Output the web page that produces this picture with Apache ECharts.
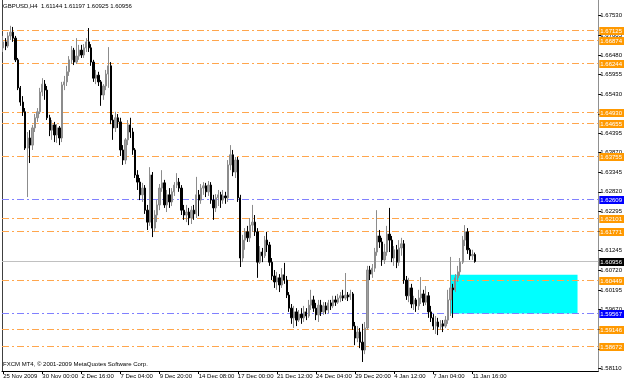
<!DOCTYPE html>
<html><head><meta charset="utf-8">
<script src="https://cdn.jsdelivr.net/npm/echarts@6/dist/echarts.min.js"></script>
<style>html,body{margin:0;padding:0;background:#fff}#c{width:625px;height:381px}</style>
</head><body><div id="c"></div>
<script>
const symbolName = 'GBPUSD,H4';
const copyright = 'FXCM MT4, \u00A9 2001-2009 MetaQuotes Software Corp.';

const open = [1.6667,1.6683,1.6672,1.6699,1.6709,1.6693,1.6635,1.6560,1.6522,1.6496,
1.6399,1.6426,1.6407,1.6453,1.6480,1.6496,1.6549,1.6570,1.6554,1.6480,
1.6447,1.6461,1.6434,1.6453,1.6426,1.6568,1.6576,1.6603,1.6635,1.6661,
1.6629,1.6645,1.6661,1.6648,1.6667,1.6683,1.6667,1.6629,1.6586,1.6594,
1.6576,1.6541,1.6565,1.6597,1.6619,1.6474,1.6453,1.6480,1.6469,1.6394,
1.6367,1.6421,1.6461,1.6442,1.6394,1.6327,1.6308,1.6274,1.6292,1.6233,
1.6201,1.6327,1.6185,1.6220,1.6247,1.6292,1.6306,1.6247,1.6274,1.6255,
1.6282,1.6300,1.6308,1.6292,1.6233,1.6220,1.6228,1.6212,1.6233,1.6223,
1.6274,1.6260,1.6292,1.6298,1.6282,1.6300,1.6260,1.6239,1.6266,1.6274,
1.6260,1.6271,1.6266,1.6354,1.6381,1.6335,1.6367,1.6266,1.6105,1.6153,
1.6175,1.6159,1.6193,1.6201,1.6175,1.6094,1.6121,1.6111,1.6153,1.6140,
1.6094,1.6057,1.6041,1.6052,1.6033,1.6060,1.6046,1.6006,1.5971,1.5945,
1.5961,1.5939,1.5955,1.5945,1.5961,1.5950,1.5979,1.5993,1.5971,1.5953,
1.5979,1.5961,1.5977,1.5966,1.5985,1.5977,1.5993,1.5987,1.5998,1.6004,
1.5998,1.6006,1.6001,1.6009,1.5923,1.5891,1.5907,1.5880,1.5859,1.5918,
1.6073,1.6062,1.6078,1.6121,1.6164,1.6148,1.6100,1.6121,1.6169,1.6153,
1.6105,1.6127,1.6094,1.6132,1.6143,1.6046,1.6004,1.6025,1.5982,1.5993,
1.5977,1.5998,1.6009,1.5987,1.6004,1.5961,1.5945,1.5923,1.5934,1.5921,
1.5929,1.5923,1.5939,1.5993,1.6025,1.6020,1.6052,1.6068,1.6094,1.6153,
1.6175,1.6127,1.6111,1.61144];

const high = [1.6699,1.6693,1.6709,1.6726,1.6723,1.6699,1.6640,1.6565,1.6538,1.6506,
1.6442,1.6447,1.6461,1.6490,1.6506,1.6560,1.6586,1.6581,1.6565,1.6488,
1.6474,1.6469,1.6463,1.6458,1.6576,1.6592,1.6619,1.6645,1.6672,1.6667,
1.6693,1.6675,1.6675,1.6677,1.6693,1.6720,1.6677,1.6635,1.6608,1.6603,
1.6581,1.6570,1.6608,1.6669,1.6629,1.6488,1.6496,1.6490,1.6480,1.6407,
1.6426,1.6474,1.6480,1.6453,1.6399,1.6340,1.6319,1.6306,1.6300,1.6247,
1.6348,1.6335,1.6233,1.6260,1.6303,1.6340,1.6314,1.6287,1.6292,1.6292,
1.6308,1.6332,1.6319,1.6300,1.6247,1.6247,1.6239,1.6244,1.6247,1.6322,
1.6287,1.6303,1.6308,1.6306,1.6311,1.6308,1.6274,1.6276,1.6287,1.6282,
1.6287,1.6282,1.6367,1.6407,1.6394,1.6375,1.6375,1.6274,1.6167,1.6185,
1.6191,1.6212,1.6247,1.6220,1.6185,1.6137,1.6132,1.6164,1.6175,1.6148,
1.6105,1.6073,1.6068,1.6062,1.6078,1.6092,1.6057,1.6014,1.5982,1.5977,
1.5971,1.5966,1.5971,1.5977,1.5971,1.5993,1.6020,1.6004,1.5985,1.5993,
1.5993,1.5987,1.5987,1.5993,1.5993,1.6004,1.6004,1.6009,1.6014,1.6020,
1.6065,1.6014,1.6020,1.6014,1.5934,1.5923,1.5918,1.5929,1.5934,1.6084,
1.6084,1.6089,1.6132,1.6233,1.6180,1.6159,1.6143,1.6191,1.6239,1.6164,
1.6137,1.6140,1.6153,1.6159,1.6153,1.6057,1.6052,1.6036,1.6004,1.5998,
1.6020,1.6054,1.6020,1.6030,1.6014,1.5977,1.5955,1.5950,1.5945,1.5939,
1.5939,1.5950,1.6020,1.6108,1.6036,1.6062,1.6084,1.6105,1.6164,1.6193,
1.6185,1.6132,1.6127,1.61197];

const low = [1.6656,1.6661,1.6667,1.6688,1.6683,1.6629,1.6554,1.6512,1.6485,1.6394,
1.6268,1.6359,1.6394,1.6442,1.6469,1.6490,1.6538,1.6528,1.6474,1.6431,
1.6421,1.6415,1.6413,1.6407,1.6415,1.6554,1.6565,1.6592,1.6624,1.6621,
1.6624,1.6635,1.6640,1.6640,1.6656,1.6656,1.6619,1.6576,1.6570,1.6565,
1.6512,1.6528,1.6554,1.6560,1.6463,1.6421,1.6442,1.6453,1.6378,1.6354,
1.6356,1.6407,1.6426,1.6381,1.6319,1.6287,1.6260,1.6255,1.6223,1.6180,
1.6191,1.6161,1.6175,1.6201,1.6233,1.6282,1.6239,1.6228,1.6239,1.6244,
1.6271,1.6292,1.6282,1.6220,1.6207,1.6201,1.6193,1.6196,1.6207,1.6212,
1.6217,1.6250,1.6274,1.6268,1.6271,1.6250,1.6207,1.6228,1.6244,1.6239,
1.6250,1.6250,1.6255,1.6340,1.6324,1.6319,1.6255,1.6081,1.6094,1.6127,
1.6148,1.6148,1.6175,1.6164,1.6052,1.6089,1.6094,1.6105,1.6121,1.6084,
1.6046,1.6025,1.6020,1.6014,1.6025,1.6036,1.5998,1.5961,1.5929,1.5918,
1.5923,1.5934,1.5929,1.5934,1.5939,1.5945,1.5966,1.5961,1.5939,1.5934,
1.5950,1.5953,1.5955,1.5958,1.5966,1.5971,1.5977,1.5982,1.5987,1.5990,
1.5993,1.5990,1.5993,1.5913,1.5872,1.5880,1.5864,1.5827,1.5848,1.5913,
1.6046,1.6052,1.6068,1.6111,1.6132,1.6084,1.6089,1.6111,1.6121,1.6094,
1.6084,1.6078,1.6084,1.6111,1.6036,1.5993,1.5987,1.5971,1.5966,1.5961,
1.5966,1.5982,1.5977,1.5979,1.5945,1.5934,1.5913,1.5902,1.5899,1.5913,
1.5907,1.5918,1.5929,1.5950,1.5945,1.6014,1.6041,1.6057,1.6089,1.6137,
1.6116,1.6100,1.6100,1.60925];

const close = [1.6683,1.6672,1.6699,1.6709,1.6693,1.6635,1.6560,1.6522,1.6496,1.6399,
1.6426,1.6407,1.6453,1.6480,1.6496,1.6549,1.6570,1.6554,1.6480,1.6447,
1.6461,1.6434,1.6453,1.6426,1.6568,1.6576,1.6603,1.6635,1.6661,1.6629,
1.6645,1.6661,1.6648,1.6667,1.6683,1.6667,1.6629,1.6586,1.6594,1.6576,
1.6541,1.6565,1.6597,1.6619,1.6474,1.6453,1.6480,1.6469,1.6394,1.6367,
1.6421,1.6461,1.6442,1.6394,1.6327,1.6308,1.6274,1.6292,1.6233,1.6201,
1.6327,1.6185,1.6220,1.6247,1.6292,1.6306,1.6247,1.6274,1.6255,1.6282,
1.6300,1.6308,1.6292,1.6233,1.6220,1.6228,1.6212,1.6233,1.6223,1.6274,
1.6260,1.6292,1.6298,1.6282,1.6300,1.6260,1.6239,1.6266,1.6274,1.6260,
1.6271,1.6266,1.6354,1.6381,1.6335,1.6367,1.6266,1.6105,1.6153,1.6175,
1.6159,1.6193,1.6201,1.6175,1.6094,1.6121,1.6111,1.6153,1.6140,1.6094,
1.6057,1.6041,1.6052,1.6033,1.6060,1.6046,1.6006,1.5971,1.5945,1.5961,
1.5939,1.5955,1.5945,1.5961,1.5950,1.5979,1.5993,1.5971,1.5953,1.5979,
1.5961,1.5977,1.5966,1.5985,1.5977,1.5993,1.5987,1.5998,1.6004,1.5998,
1.6006,1.6001,1.6009,1.5923,1.5891,1.5907,1.5880,1.5859,1.5918,1.6073,
1.6062,1.6078,1.6121,1.6164,1.6148,1.6100,1.6121,1.6169,1.6153,1.6105,
1.6127,1.6094,1.6132,1.6143,1.6046,1.6004,1.6025,1.5982,1.5993,1.5977,
1.5998,1.6009,1.5987,1.6004,1.5961,1.5945,1.5923,1.5934,1.5921,1.5929,
1.5923,1.5939,1.5993,1.6025,1.6020,1.6052,1.6068,1.6094,1.6153,1.6175,
1.6127,1.6111,1.61144,1.60956];

const timeTickLabels = ['25 Nov 2009','30 Nov 00:00','2 Dec 16:00','7 Dec 04:00','9 Dec 20:00',
  '14 Dec 08:00','17 Dec 00:00','21 Dec 12:00','24 Dec 04:00','29 Dec 20:00',
  '4 Jan 12:00','7 Jan 04:00','11 Jan 16:00'];
const barsPerTimeTick = 16;
const emptyBarsRight = 50;

const priceTickLabels = [1.67530,1.67005,1.66480,1.65955,1.65430,1.64905,1.64395,1.63870,
  1.63345,1.62820,1.62295,1.61770,1.61245,1.60720,1.60195,1.59670,1.59145,1.58620,1.58110];
const priceMin = 1.58029, priceMax = 1.67950;

const orangeLevels = [1.67125,1.66874,1.66244,1.64930,1.64655,1.63755,1.62101,1.61771,1.60449,1.59146,1.58672];
const blueLevels = [1.62609,1.59567];
const zoneBars = [183, 235];
const zonePrices = [1.60600, 1.59567];

const n = open.length;
const last = n - 1;
const categories = Array.from({length: n + emptyBarsRight}, (_, i) => String(i));
const candles = open.map((o, i) => [o, close[i], low[i], high[i]]);
const lastPrice = close[last];

const FONT = '"Liberation Sans", Arial, sans-serif';
const isTimeTick = (i) => i % barsPerTimeTick === 0 && i < n;

// Horizontal level lines: y comes from the axis scale (api.coord), snapped to a crisp pixel row.
function levelSeries(levels, lineColor, boxColor, dashed, z) {
  return {
    type: 'custom', z: z, silent: true, clip: false,
    data: levels.map(v => [0, v]),
    encode: { x: 0, y: 1 },
    renderItem: (params, api) => {
      const v = api.value(1);
      const cs = params.coordSys;
      const y = Math.floor(api.coord([0, v])[1]) + 0.5;
      return {
        type: 'group',
        children: [{
          type: 'line',
          shape: { x1: cs.x, y1: y, x2: cs.x + cs.width, y2: y },
          style: { stroke: lineColor, lineWidth: 1, lineDash: dashed ? [7, 3, 2, 3] : null }
        }, {
          type: 'text', x: cs.x + cs.width + 1, y: y + 0.5,
          style: {
            text: v.toFixed(5), fill: '#fff', backgroundColor: boxColor,
            font: '6px ' + FONT, verticalAlign: 'middle', align: 'left',
            padding: [1, 2, 0, 1], lineHeight: 7
          }
        }]
      };
    }
  };
}

const chart = echarts.init(document.getElementById('c'), null, { renderer: 'canvas' });
chart.setOption({
  animation: false,
  backgroundColor: '#fff',
  grid: { left: 2, right: 24, top: 0, bottom: 10, containLabel: false },
  xAxis: {
    type: 'category', data: categories, boundaryGap: true,
    axisLine: { show: true, lineStyle: { color: '#000', width: 1 } },
    axisTick: { show: true, interval: isTimeTick, alignWithLabel: true, length: 3, lineStyle: { color: '#000' } },
    axisLabel: {
      interval: isTimeTick, formatter: (v, i) => timeTickLabels[i / barsPerTimeTick],
      align: 'left', fontSize: 6, fontFamily: FONT, color: '#000', margin: 2
    },
    splitLine: { show: false }
  },
  yAxis: [{
    type: 'value', position: 'right', min: priceMin, max: priceMax, scale: true,
    axisLine: { show: true, lineStyle: { color: '#909090', width: 1 } },
    axisTick: { show: true, customValues: priceTickLabels, length: 3, lineStyle: { color: '#000' } },
    axisLabel: { customValues: priceTickLabels, formatter: (v) => v.toFixed(5), fontSize: 6, fontFamily: FONT, color: '#000', margin: 2 },
    splitLine: { show: false }
  }, {
    type: 'value', position: 'left', min: priceMin, max: priceMax, scale: true,
    axisLine: { show: true, lineStyle: { color: '#404040', width: 1 } },
    axisTick: { show: false }, axisLabel: { show: false }, splitLine: { show: false }
  }],
  series: [
    levelSeries([lastPrice], '#C0C0C0', '#000000', false, 1),
    levelSeries(orangeLevels, '#FFA64D', '#FF9900', true, 1),
    levelSeries(blueLevels, '#8080FF', '#0000FF', true, 1),
    {
      type: 'line', z: 2, data: categories.map(() => null), showSymbol: false, silent: true,
      markArea: {
        silent: true,
        itemStyle: { color: '#00FFFF', opacity: 1 },
        data: [[{ xAxis: String(zoneBars[0]), yAxis: zonePrices[0] }, { xAxis: String(zoneBars[1]), yAxis: zonePrices[1] }]]
      }
    }, {
      type: 'candlestick', z: 3, data: candles, barWidth: 1.8,
      itemStyle: { color: '#A0A0A0', color0: '#000000', borderColor: '#8C8C8C', borderColor0: '#000000', borderWidth: 1 }
    }
  ],
  graphic: [
    { type: 'text', left: 3, top: 3, style: { text: symbolName + '  ' + [open[last], high[last], low[last], close[last]].map(v => v.toFixed(5)).join(' '), font: '6px ' + FONT, fill: '#000' } },
    { type: 'text', left: 3, top: 361, style: { text: copyright, font: '6px ' + FONT, fill: '#000' } }
  ]
});
</script></body></html>
